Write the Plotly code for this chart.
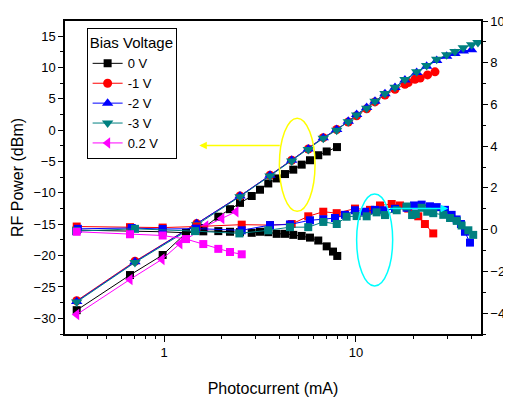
import math
import plotly.graph_objects as go

# ---------------- data ----------------
# RF power (left axis, dBm) vs photocurrent (mA)
i_0v = [0.351, 0.665, 0.984, 1.302, 1.602, 1.918, 2.207, 2.488, 2.863, 3.162, 3.493, 3.864,
        4.268, 4.714, 5.215, 5.759, 6.362, 7.038, 7.962]
p_0v = [-28.7, -23.1, -19.9, -16.4, -15.6, -13.8, -12.6, -11.6, -10.5, -9.5, -8.5, -7.7,
        -7.0, -6.3, -5.5, -4.8, -4.0, -3.4, -2.7]

i_m1v = [0.351, 0.706, 1.48, 2.488, 3.566, 4.626, 5.643, 6.755, 7.935, 9.119, 10.08, 11.37,
         12.56, 14.16, 15.97, 17.99, 18.72, 20.3, 21.6, 23.6, 25.8]
p_m1v = [-27.2, -20.9, -14.9, -10.5, -7.2, -4.8, -3.0, -1.2, 0.1, 1.3, 2.3, 3.4,
         4.5, 5.6, 6.5, 7.3, 7.6, 8.1, 8.3, 8.8, 9.3]

i_m2v = [0.351, 0.706, 1.48, 2.488, 3.566, 4.626, 5.643, 6.755, 7.935, 9.119, 10.08, 11.37,
         12.56, 14.16, 15.97, 17.99, 20.71, 23.34, 26.33, 29.68, 32.79, 36.22, 40.0]
p_m2v = [-27.3, -21.0, -14.9, -10.5, -7.2, -4.8, -3.0, -1.2, 0.1, 1.4, 2.5, 3.6,
         4.6, 5.8, 6.8, 8.0, 9.2, 10.2, 11.1, 11.8, 12.2, 12.6, 12.8]

i_m3v = [0.351, 0.706, 1.48, 2.488, 3.566, 4.626, 5.643, 6.755, 7.935, 9.119, 10.08, 11.37,
         12.56, 14.16, 15.97, 17.99, 20.71, 23.34, 26.33, 29.68, 32.79, 36.22, 40.05, 43.19]
p_m3v = [-27.4, -21.1, -15.1, -10.6, -7.3, -4.9, -3.1, -1.3, 0.0, 1.35, 2.4, 3.5,
         4.6, 5.85, 6.84, 8.07, 9.32, 10.3, 11.29, 12.03, 12.52, 13.12, 13.62, 13.96]

i_p02v = [0.351, 0.665, 0.976, 1.21, 1.65, 2.0, 2.37]
p_p02v = [-29.4, -23.8, -20.6, -18.1, -15.3, -14.1, -13.0]

# Right axis series (squares)
ir_0v = [0.351, 0.665, 0.984, 1.302, 1.602, 1.918, 2.207, 2.488, 2.863, 3.162, 3.493, 3.864,
         4.268, 4.714, 5.215, 5.759, 6.362, 7.038, 7.59, 7.99]
r_0v = [-0.02, -0.05, -0.1, -0.15, -0.08, -0.07, -0.1, -0.12, -0.15, -0.1, -0.12, -0.2,
        -0.2, -0.25, -0.3, -0.38, -0.52, -0.8, -1.05, -1.26]

ir_m1v = [0.351, 0.665, 0.984, 1.48, 2.54, 3.566, 4.626, 5.643, 6.755, 7.935, 9.88, 11.83,
          13.34, 15.35, 16.95, 18.72, 21.11, 22.86, 25.27]
r_m1v = [0.15, 0.12, 0.1, 0.15, 0.24, 0.22, 0.27, 0.64, 0.86, 0.79, 1.01, 0.95,
         1.16, 1.23, 1.16, 1.01, 0.64, 0.27, -0.18]

ir_m2v = [0.356, 0.679, 0.984, 1.47, 2.54, 3.566, 4.53, 5.759, 6.755, 7.775, 8.766, 9.88,
          11.14, 12.56, 13.87, 15.97, 18.37, 20.05, 21.99, 24.29, 26.33, 29.08, 31.5, 33.46,
          35.23, 36.96, 39.25]
r_m2v = [0.04, 0.08, 0.03, 0.05, -0.03, 0.22, 0.25, 0.45, 0.5, 0.56, 0.71, 0.93,
         0.86, 0.95, 0.93, 1.0, 1.05, 1.16, 1.2, 1.12, 1.08, 0.95, 0.71, 0.49,
         0.27, -0.1, -0.62]

ir_m3v = [0.348, 0.706, 1.45, 2.47, 3.49, 4.53, 5.64, 6.76, 7.94, 8.94, 10.08, 11.37,
          12.81, 14.16, 16.3, 18.35, 19.6, 20.5, 22.0, 23.5, 25.27, 28.5, 30.9, 33.5,
          35.5, 38.5, 40.8]
r_m3v = [-0.07, 0.04, -0.07, -0.18, -0.03, 0.12, 0.12, 0.37, 0.27, 0.62, 0.65, 0.64,
         0.83, 0.7, 0.93, 1.11, 0.7, 0.75, 1.05, 0.86, 0.79, 0.71, 0.56, 0.42,
         0.2, -0.03, -0.25]

ir_p02v = [0.351, 0.665, 0.984, 1.302, 1.602, 1.918, 2.207, 2.54]
r_p02v = [-0.1, -0.22, -0.28, -0.45, -0.69, -0.92, -1.07, -1.18]

legend_names = ["0 V", "-1 V", "-2 V", "-3 V", "0.2 V"]
colors = ["#000000", "#FF0000", "#0000FF", "#008080", "#FF00FF"]
symbols = ["square", "circle", "triangle-up", "triangle-down", "triangle-left"]
msizes = [8, 9, 10, 10, 10]

x_major = [1, 10]
x_minor = [0.4, 0.5, 0.6, 0.7, 0.8, 0.9, 2, 3, 4, 5, 6, 7, 8, 9, 20, 30, 40]

FONT = "Arial, Liberation Sans, sans-serif"

fig = go.Figure()

rise = [(i_0v, p_0v), (i_m1v, p_m1v), (i_m2v, p_m2v), (i_m3v, p_m3v), (i_p02v, p_p02v)]
right = [(ir_0v, r_0v), (ir_m1v, r_m1v), (ir_m2v, r_m2v), (ir_m3v, r_m3v), (ir_p02v, r_p02v)]

for k, (xs, ys) in enumerate(rise):
    fig.add_trace(go.Scatter(
        x=xs, y=ys, name=legend_names[k], mode="lines+markers",
        line=dict(color=colors[k], width=1),
        marker=dict(symbol=symbols[k], size=msizes[k], color=colors[k], line=dict(width=0)),
        yaxis="y"))

for k, (xs, ys) in enumerate(right):
    fig.add_trace(go.Scatter(
        x=xs, y=ys, name=legend_names[k], mode="lines+markers", showlegend=False,
        line=dict(color=colors[k], width=1),
        marker=dict(symbol="square", size=8, color=colors[k], line=dict(width=0)),
        yaxis="y2"))

# ellipses (data coordinates)
fig.add_shape(type="circle", xref="x", yref="y", x0=3.99, x1=6.12, y0=-12.94, y1=1.9,
              line=dict(color="#FFFF00", width=1.5))
fig.add_shape(type="circle", xref="x", yref="y2", x0=10.08, x1=15.53, y0=-2.70, y1=1.71,
              line=dict(color="#00FFFF", width=1.5))

# arrows
fig.add_annotation(x=math.log10(1.527), y=-2.46, xref="x", yref="y", ax=82, ay=0,
                   text="", showarrow=True, arrowhead=2, arrowsize=1, arrowwidth=1.5,
                   arrowcolor="#FFFF00")
fig.add_annotation(x=math.log10(30.25), y=1.01, xref="x", yref="y2", ax=-60, ay=0,
                   text="", showarrow=True, arrowhead=2, arrowsize=1, arrowwidth=1.5,
                   arrowcolor="#00FFFF")

fig.update_layout(
    width=503, height=393,
    margin=dict(l=57, r=30, t=6, b=51),
    paper_bgcolor="white", plot_bgcolor="white",
    font=dict(family=FONT, size=13, color="black"),
    showlegend=True,
    legend=dict(x=0.052, y=0.978, xanchor="left", yanchor="top",
                bgcolor="white", bordercolor="black", borderwidth=1,
                font=dict(size=13, family=FONT),
                title=dict(text="Bias Voltage", font=dict(size=15, family=FONT)),
                tracegroupgap=0),
    xaxis=dict(type="log", range=[math.log10(0.305), math.log10(44.8)],
               title=dict(text="Photocurrent (mA)", font=dict(size=16), standoff=23),
               tickmode="array", tickvals=x_major, ticktext=[str(v) for v in x_major],
               ticks="outside", ticklen=6, tickwidth=1.3, tickcolor="black",
               minor=dict(tickmode="array", tickvals=x_minor, ticks="outside", ticklen=3,
                          tickwidth=1.3, tickcolor="black", showgrid=False),
               showline=True, linecolor="black", linewidth=1.5, mirror=True,
               showgrid=False, zeroline=False),
    yaxis=dict(range=[-32.5, 17.4], dtick=5, tick0=0,
               title=dict(text="RF Power (dBm)", font=dict(size=16), standoff=6),
               ticks="outside", ticklen=5, tickwidth=1.3, tickcolor="black",
               minor=dict(dtick=2.5, tick0=0, ticks="outside", ticklen=3, tickwidth=1.3,
                          tickcolor="black", showgrid=False),
               showline=True, linecolor="black", linewidth=1.5,
               showgrid=False, zeroline=False),
    yaxis2=dict(range=[-5, 10], dtick=2, tick0=0, overlaying="y", side="right",
                ticks="outside", ticklen=5, tickwidth=1.3, tickcolor="black",
                minor=dict(dtick=1, tick0=0, ticks="outside", ticklen=3, tickwidth=1.3,
                           tickcolor="black", showgrid=False),
                showline=True, linecolor="black", linewidth=1.5,
                showgrid=False, zeroline=False),
)

fig.write_html("out.html")
